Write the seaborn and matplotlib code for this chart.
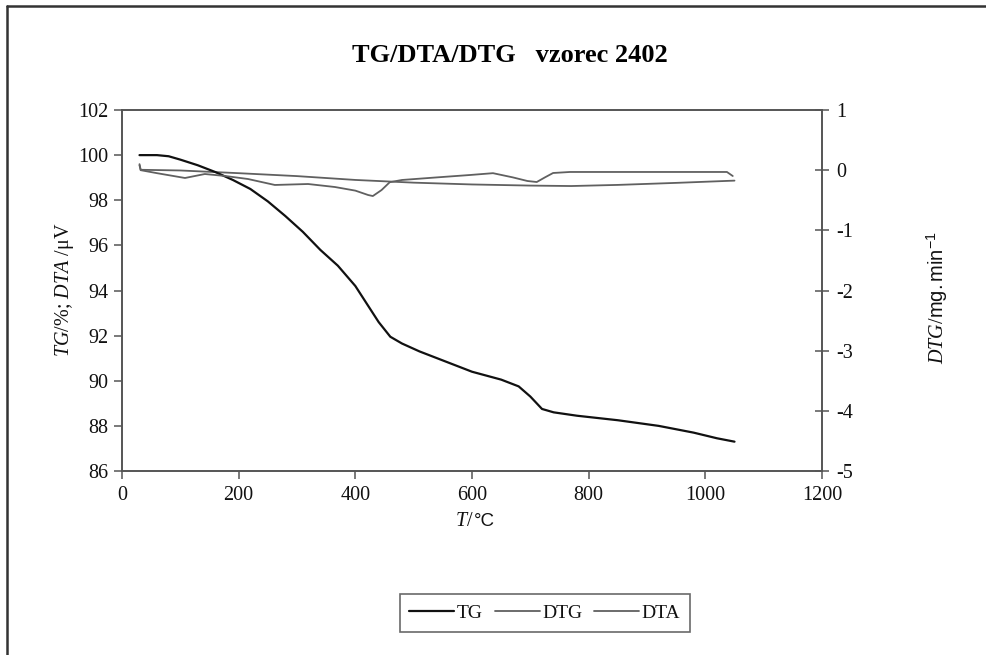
import matplotlib
matplotlib.use("Agg")
import matplotlib.pyplot as plt
import seaborn as sns
import pandas as pd
from matplotlib.lines import Line2D

# Temperature (degC) and TG mass (%)
tg_temp = [30, 60, 80, 100, 130, 160, 190, 220, 250, 280, 310, 340, 370, 400, 420,
           440, 460, 480, 510, 550, 600, 650, 680, 700, 720, 740, 780, 850, 920,
           980, 1020, 1050]
tg_mass = [100.0, 100.0, 99.95, 99.8, 99.55, 99.25, 98.9, 98.5, 97.95, 97.3, 96.6,
           95.8, 95.1, 94.2, 93.4, 92.6, 91.95, 91.65, 91.3, 90.9, 90.4, 90.05,
           89.75, 89.3, 88.75, 88.6, 88.45, 88.25, 88.0, 87.7, 87.45, 87.3]

# DTG (mg/min), right axis
dtg_temp = [30, 32, 60, 108, 142, 177, 216, 262, 319, 365, 400, 422, 430, 445, 459,
            480, 540, 597, 636, 670, 695, 711, 725, 739, 768, 819, 900, 1000, 1037,
            1047]
dtg_rate = [0.1, 0.0, -0.05, -0.13, -0.064, -0.097, -0.147, -0.246, -0.23, -0.28,
            -0.34, -0.413, -0.43, -0.33, -0.2, -0.163, -0.12, -0.08, -0.05, -0.12,
            -0.18, -0.197, -0.12, -0.047, -0.03, -0.03, -0.03, -0.03, -0.03, -0.097]

# DTA (uV), left axis
dta_temp = [30, 32, 100, 200, 300, 400, 500, 600, 700, 770, 850, 950, 1050]
dta_signal = [99.55, 99.35, 99.32, 99.2, 99.07, 98.9, 98.78, 98.7, 98.65, 98.63,
              98.68, 98.77, 98.87]

x_ticks = [0, 200, 400, 600, 800, 1000, 1200]
left_ticks = [86, 88, 90, 92, 94, 96, 98, 100, 102]
right_ticks = [-5, -4, -3, -2, -1, 0, 1]

sns.set_style("white")
plt.rcParams["font.family"] = ["Liberation Serif", "DejaVu Serif"]
plt.rcParams["mathtext.fontset"] = "custom"
plt.rcParams["mathtext.it"] = "Liberation Serif:italic"
plt.rcParams["mathtext.rm"] = "Liberation Serif"
plt.rcParams["mathtext.sf"] = "Liberation Sans"
plt.rcParams["text.color"] = "#111111"
plt.rcParams["xtick.labelcolor"] = "#111111"
plt.rcParams["ytick.labelcolor"] = "#111111"

AX_COLOR = "#555555"
GRAY = "#606060"
FS = 14.5

fig = plt.figure(figsize=(9.87, 6.55), dpi=100)
ax = fig.add_axes([122 / 987, 1 - 471 / 655, 700 / 987, 361 / 655])
ax2 = ax.twinx()

tg_df = pd.DataFrame({"T": tg_temp, "v": tg_mass})
dta_df = pd.DataFrame({"T": dta_temp, "v": dta_signal})
dtg_df = pd.DataFrame({"T": dtg_temp, "v": dtg_rate})

sns.lineplot(data=dta_df, x="T", y="v", ax=ax, color=GRAY, linewidth=1.3, sort=False)
sns.lineplot(data=tg_df, x="T", y="v", ax=ax, color="#111111", linewidth=1.6, sort=False)
sns.lineplot(data=dtg_df, x="T", y="v", ax=ax2, color=GRAY, linewidth=1.3, sort=False)

ax.set_xlim(0, 1200)
ax.set_ylim(86, 102)
ax2.set_ylim(-5, 1)
ax.set_xticks(x_ticks)
ax.set_yticks(left_ticks)
ax2.set_yticks(right_ticks)
ax.set_xticklabels([str(t) for t in x_ticks])
ax.set_yticklabels([str(t) for t in left_ticks])
ax2.set_yticklabels([str(t) for t in right_ticks])

for a in (ax, ax2):
    for s in a.spines.values():
        s.set_color(AX_COLOR)
        s.set_linewidth(1.2)
        s.set_visible(True)
    a.set_xlabel("")
    a.set_ylabel("")

ax.tick_params(axis="y", direction="out", length=6, width=1.1,
               color=AX_COLOR, labelsize=FS, pad=4, left=True)
ax.tick_params(axis="x", direction="out", length=6, width=1.1,
               color=AX_COLOR, labelsize=FS, pad=5, bottom=True)
ax2.tick_params(axis="y", direction="inout", length=10, width=1.1,
                color=AX_COLOR, labelsize=FS, pad=5, right=True)

fig.text(510 / 987, 1 - 56 / 655, "TG/DTA/DTG   vzorec 2402", ha="center",
         va="center", fontsize=19, fontweight="bold", color="#000000")

fig.text(474 / 987, 1 - 521 / 655, r"$\it{T}$/", ha="right", va="center", fontsize=FS)
fig.text(474 / 987, 1 - 521 / 655, "\u00b0C", ha="left", va="center", fontsize=13.5,
         family="Liberation Sans")

fig.text(64 / 987, 1 - 290 / 655, "$\\it{TG}$/%; $\\it{DTA}$ /\u03bcV",
         ha="center", va="center", rotation=90, fontsize=FS)

fig.text(937 / 987, 1 - 298 / 655, r"$\it{DTG}$/$\mathsf{mg.min}^{\mathsf{-1}}$",
         ha="center", va="center", rotation=90, fontsize=FS)

handles = [Line2D([], [], color="#111111", linewidth=1.6),
           Line2D([], [], color=GRAY, linewidth=1.3),
           Line2D([], [], color=GRAY, linewidth=1.3)]
leg = fig.legend(handles, ["TG", "DTG", "DTA"], loc="center",
                 bbox_to_anchor=(545 / 987, 1 - 613 / 655), ncol=3, frameon=True,
                 fancybox=False, fontsize=14, handlelength=2.3, handletextpad=0.15,
                 columnspacing=0.6, borderpad=0.5, borderaxespad=0)
leg.get_frame().set_edgecolor("#444444")
leg.get_frame().set_linewidth(1.2)

# outer frame lines on the left and top edges
fig.add_artist(Line2D([7 / 987, 7 / 987], [0, 1 - 6 / 655], color="#333333",
                      linewidth=1.8, transform=fig.transFigure))
fig.add_artist(Line2D([7 / 987, 1], [1 - 6 / 655, 1 - 6 / 655], color="#333333",
                      linewidth=1.8, transform=fig.transFigure))

fig.savefig("out.png", dpi=100)
